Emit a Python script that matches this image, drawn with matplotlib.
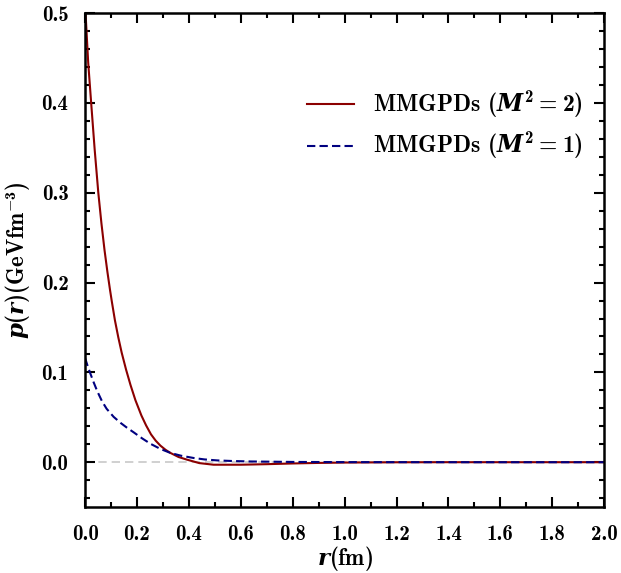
import matplotlib
matplotlib.use("Agg")
import matplotlib.pyplot as plt
from matplotlib.ticker import MultipleLocator
import numpy as np

plt.rcParams['font.family'] = ['cmb10', 'DejaVu Serif']
plt.rcParams['mathtext.fontset'] = 'custom'
plt.rcParams['mathtext.rm'] = 'cmb10'
plt.rcParams['mathtext.bf'] = 'cmb10'
plt.rcParams['mathtext.it'] = 'DejaVu Serif:italic:bold'
plt.rcParams['axes.unicode_minus'] = False

# pressure, M^2 = 2
r_m2 = [0.0, 0.012, 0.024, 0.037, 0.051, 0.063, 0.075, 0.086, 0.096, 0.103,
        0.115, 0.128, 0.141, 0.158, 0.175, 0.194, 0.217, 0.235, 0.254, 0.272,
        0.29, 0.31, 0.329, 0.36, 0.393, 0.44, 0.495, 0.6, 0.7, 0.8, 0.9, 1.0,
        1.2, 1.4, 2.0]
p_m2 = [0.51, 0.445, 0.398, 0.348, 0.3, 0.266, 0.236, 0.212, 0.192, 0.179,
        0.158, 0.139, 0.122, 0.103, 0.086, 0.069, 0.052, 0.041, 0.031, 0.024,
        0.0185, 0.0138, 0.0103, 0.0058, 0.0028, -0.001, -0.0028, -0.0028,
        -0.0022, -0.0014, -0.0008, -0.0004, -0.0001, 0.0, 0.0]

# pressure, M^2 = 1
r_m1 = [0.0, 0.01, 0.02, 0.033, 0.047, 0.065, 0.083, 0.11, 0.138, 0.16, 0.187,
        0.22, 0.252, 0.29, 0.329, 0.37, 0.418, 0.46, 0.509, 0.57, 0.64, 0.8,
        1.0, 1.5, 2.0]
p_m1 = [0.116, 0.107, 0.099, 0.089, 0.079, 0.068, 0.0595, 0.0505, 0.0435,
        0.0387, 0.0333, 0.0265, 0.0205, 0.0148, 0.0103, 0.0072, 0.0047, 0.0031,
        0.002, 0.0013, 0.0008, 0.0003, 0.0001, 0.0, 0.0]

fig = plt.figure(figsize=(6.21, 5.73), dpi=100)
ax = fig.add_axes([0.137, 0.115, 0.836, 0.862])

ax.axhline(0, color='#c8c8c8', lw=1.2, ls='--', dashes=(5, 3), zorder=1)
ax.plot(r_m2, p_m2, color='#8b0000', lw=1.5, label=r'MMGPDs ($M^2=2$)')
ax.plot(r_m1, p_m1, color='#000080', lw=1.5, ls='--', dashes=(4, 2),
        label=r'MMGPDs ($M^2=1$)')

ax.set_xlim(0, 2.0)
ax.set_ylim(-0.05, 0.5)
ax.xaxis.set_major_locator(MultipleLocator(0.2))
ax.xaxis.set_minor_locator(MultipleLocator(0.1))
ax.yaxis.set_major_locator(MultipleLocator(0.1))
ax.yaxis.set_minor_locator(MultipleLocator(0.02))
ax.tick_params(which='both', direction='in', top=True, right=True, width=1.5,
               labelsize=15, pad=12)
ax.tick_params(axis='x', which='major', pad=13)
ax.tick_params(which='major', length=7)
ax.tick_params(which='minor', length=3.5)
for s in ax.spines.values():
    s.set_linewidth(1.8)

ax.set_xlabel(r'$r$(fm)', fontsize=16.5, labelpad=0)
ax.set_ylabel(r'$p(r)$(GeVfm$^{-3}$)', fontsize=16.5, labelpad=6)

ax.legend(loc='upper right', bbox_to_anchor=(1.0, 0.888), frameon=False,
          fontsize=17, handlelength=2.0, handletextpad=0.8, labelspacing=0.4)

fig.savefig('out.png', dpi=100)
